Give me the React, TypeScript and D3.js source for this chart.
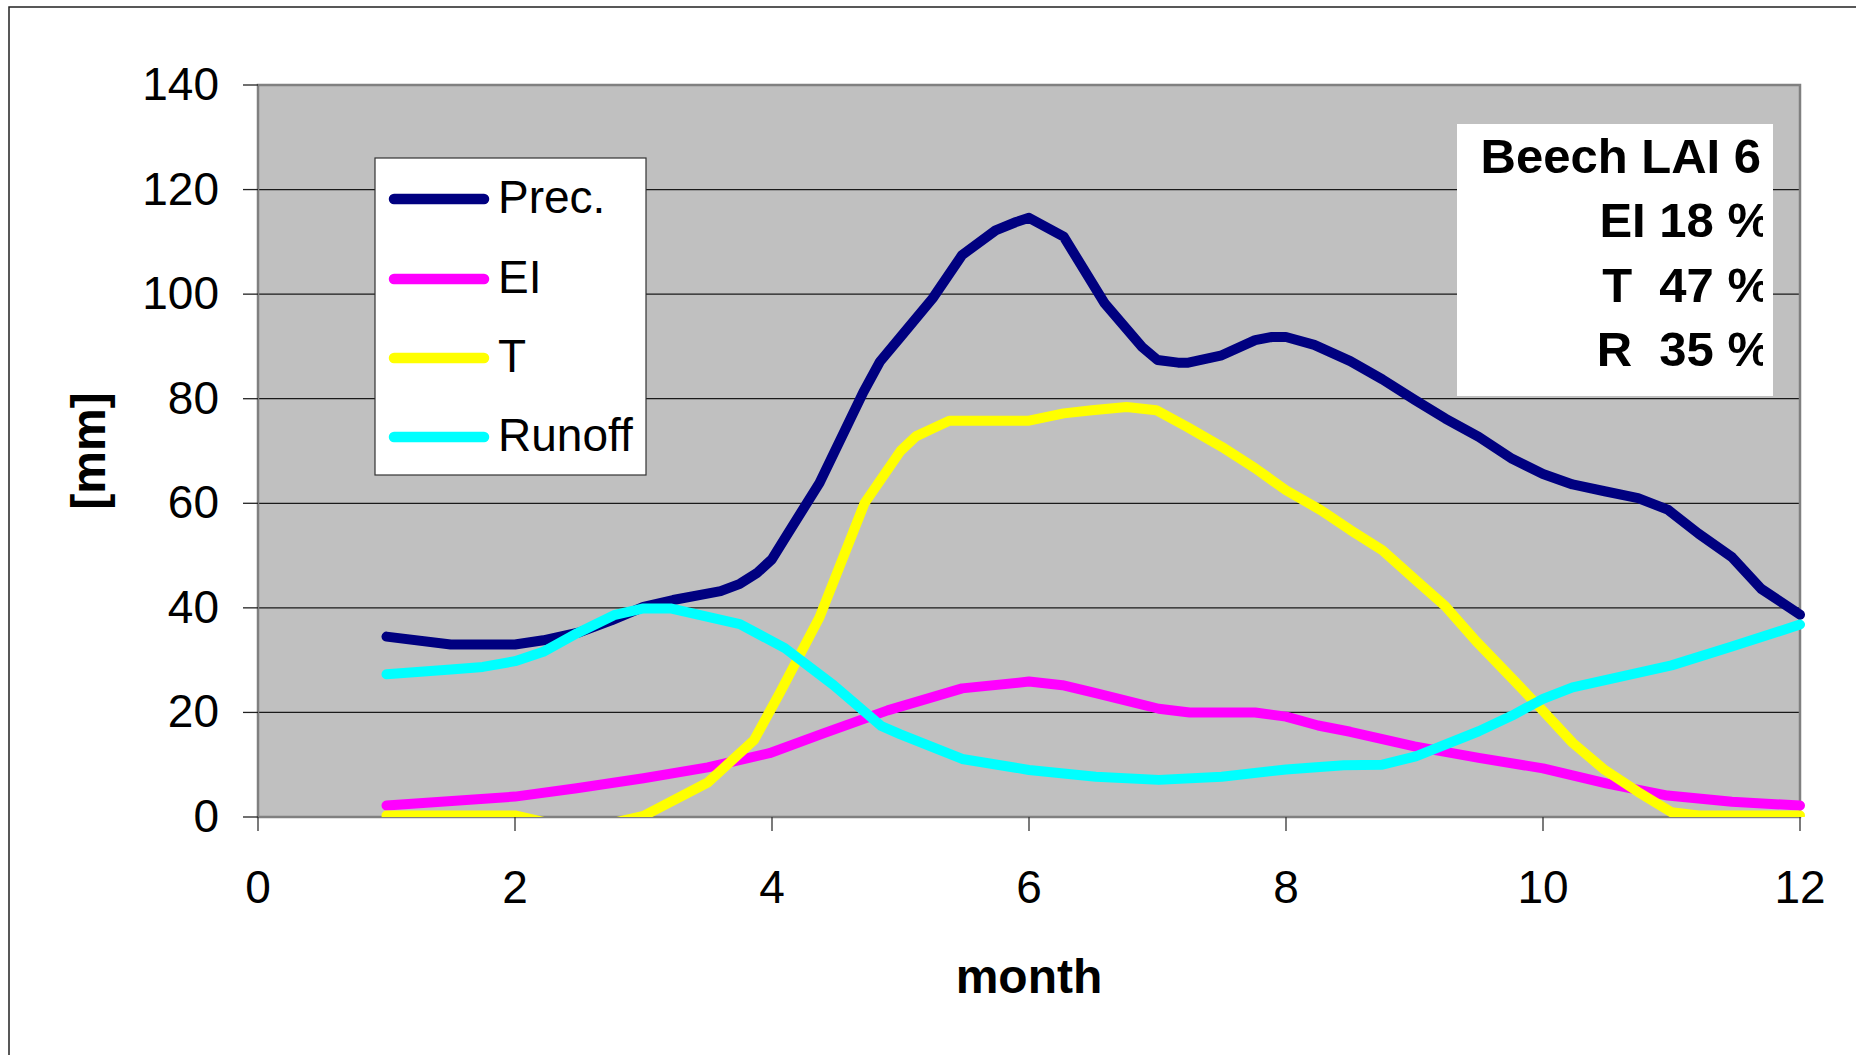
import React from "react";
import * as d3 from "d3";

// Monthly water balance of a beech stand (LAI 6)
const precMonths = [1, 1.5, 2, 2.22, 2.5, 2.75, 3, 3.23, 3.6, 3.75, 3.88, 4, 4.1, 4.37, 4.71, 4.84, 5, 5.25, 5.48, 5.74, 5.9, 6, 6.27, 6.59, 6.88, 7, 7.16, 7.24, 7.5, 7.76, 7.89, 8, 8.22, 8.5, 8.75, 9, 9.24, 9.5, 9.76, 10, 10.23, 10.48, 10.74, 10.97, 11.21, 11.47, 11.7, 12];
const precValues = [34.5, 33, 33, 33.8, 35.3, 37.6, 40.2, 41.5, 43.2, 44.6, 46.6, 49.3, 53.3, 63.9, 81.2, 87.1, 91.8, 99.2, 107.5, 112.2, 113.8, 114.6, 111, 98.2, 89.9, 87.4, 86.9, 86.9, 88.3, 91.2, 91.8, 91.8, 90.3, 87.2, 83.7, 79.8, 76.2, 72.7, 68.5, 65.6, 63.6, 62.3, 61, 58.8, 54.2, 49.7, 43.6, 38.7];

const eiMonths = [1, 2, 2.48, 3, 3.5, 3.98, 4.4, 4.9, 5.48, 6, 6.26, 6.52, 7.01, 7.25, 7.76, 8, 8.25, 8.5, 9, 9.5, 10, 10.5, 10.97, 11.47, 12];
const eiValues = [2.2, 3.9, 5.5, 7.4, 9.5, 12.2, 16.0, 20.4, 24.6, 25.9, 25.2, 23.7, 20.7, 20.0, 20.0, 19.2, 17.5, 16.3, 13.5, 11.3, 9.3, 6.4, 4.1, 2.9, 2.2];

const tMonths = [1, 2, 2.5, 2.75, 3, 3.5, 3.86, 4.06, 4.37, 4.72, 5, 5.12, 5.25, 5.38, 6, 6.27, 6.49, 6.76, 6.99, 7.23, 7.5, 7.76, 8, 8.27, 8.5, 8.75, 9, 9.24, 9.48, 9.76, 10, 10.23, 10.48, 10.74, 11, 11.21, 12];
const tValues = [0.3, 0.3, -2.5, -1.2, 0.2, 6.6, 14.7, 23.7, 38.2, 60, 70, 72.8, 74.3, 75.8, 75.8, 77.2, 77.8, 78.4, 77.8, 74.6, 70.8, 66.7, 62.5, 58.7, 54.9, 51, 45.5, 40.3, 33.6, 26.5, 20.3, 14.2, 9, 4.8, 0.9, 0.3, 0.3];

const runoffMonths = [1, 1.5, 1.75, 2, 2.22, 2.48, 2.77, 3, 3.21, 3.75, 4.1, 4.48, 4.85, 5, 5.48, 6, 6.52, 7.01, 7.5, 8, 8.45, 8.75, 9.01, 9.5, 9.76, 10, 10.23, 11, 11.47, 12];
const runoffValues = [27.3, 28.2, 28.7, 29.8, 31.6, 35.1, 38.6, 39.9, 39.9, 36.9, 32.3, 25.2, 17.4, 15.8, 11.1, 9.0, 7.7, 7.1, 7.7, 9.1, 9.9, 10.0, 11.6, 16.4, 19.4, 22.6, 24.8, 29.0, 32.6, 36.8];

const seriesNames = ["Prec.", "EI", "T", "Runoff"];
const seriesColors = ["#000080", "#FF00FF", "#FFFF00", "#00FFFF"];

const xTicks = [0, 2, 4, 6, 8, 10, 12];
const yTicks = [0, 20, 40, 60, 80, 100, 120, 140];

const infoLines = ["Beech LAI 6", "EI 18 %", "T  47 %", "R  35 %"];

const W = 1856;
const H = 1055;
const FONT = "'Liberation Sans', Arial, Helvetica, sans-serif";

export default function App() {
  const plot = { left: 258, right: 1800, top: 85, bottom: 817 };
  const x = d3.scaleLinear().domain([0, 12]).range([plot.left, plot.right]);
  const y = d3.scaleLinear().domain([0, 140]).range([plot.bottom, plot.top]);

  const line = d3
    .line<[number, number]>()
    .x((d) => x(d[0]))
    .y((d) => y(d[1]));

  const zip = (ms: number[], vs: number[]) =>
    ms.map((m, i) => [m, vs[i]] as [number, number]);

  const series = [
    zip(precMonths, precValues),
    zip(eiMonths, eiValues),
    zip(tMonths, tValues),
    zip(runoffMonths, runoffValues),
  ];

  const legend = { x: 375, y: 158, w: 271, h: 317 };
  const legendRows = [199, 279, 358, 437];

  const box = { x: 1457, y: 124, w: 316, h: 272 };
  const infoBaselines = [173, 237, 302, 366];
  const infoRight = [1761, 1771, 1771, 1771];

  return (
    <svg
      width={W}
      height={H}
      viewBox={`0 0 ${W} ${H}`}
      style={{ position: "absolute", left: 0, top: 0, background: "#fff" }}
    >
      <defs>
        <clipPath id="plotClip">
          <rect x={plot.left - 20} y={plot.top} width={plot.right - plot.left + 40} height={plot.bottom - plot.top} />
        </clipPath>
        <clipPath id="infoClip">
          <rect x={box.x} y={box.y} width={1763 - box.x} height={box.h} />
        </clipPath>
      </defs>

      {/* chart frame */}
      <rect x={9} y={7} width={1900} height={1100} fill="#fff" stroke="#222" strokeWidth={1.5} />

      {/* plot area */}
      <rect
        x={plot.left}
        y={plot.top}
        width={plot.right - plot.left}
        height={plot.bottom - plot.top}
        fill="#C0C0C0"
      />

      {/* gridlines */}
      {yTicks.slice(1, -1).map((t) => (
        <line key={`g${t}`} x1={plot.left} x2={plot.right} y1={y(t)} y2={y(t)} stroke="#1a1a1a" strokeWidth={1.3} />
      ))}

      {/* plot border */}
      <rect
        x={plot.left}
        y={plot.top}
        width={plot.right - plot.left}
        height={plot.bottom - plot.top}
        fill="none"
        stroke="#808080"
        strokeWidth={2.5}
      />

      {/* y axis ticks and labels */}
      {yTicks.map((t) => (
        <g key={`y${t}`}>
          <line x1={plot.left - 15} x2={plot.left} y1={y(t)} y2={y(t)} stroke="#222" strokeWidth={1.3} />
          <text x={219} y={y(t) + 15} textAnchor="end" fontFamily={FONT} fontSize={46} fill="#000">
            {t}
          </text>
        </g>
      ))}

      {/* x axis ticks and labels */}
      {xTicks.map((t) => (
        <g key={`x${t}`}>
          <line x1={x(t)} x2={x(t)} y1={plot.bottom} y2={plot.bottom + 14} stroke="#333" strokeWidth={1.3} />
          <text x={x(t)} y={903} textAnchor="middle" fontFamily={FONT} fontSize={46} fill="#000">
            {t}
          </text>
        </g>
      ))}

      {/* axis titles */}
      <text
        transform="translate(105,451) rotate(-90)"
        textAnchor="middle"
        fontFamily={FONT}
        fontWeight="bold"
        fontSize={48}
        fill="#000"
      >
        [mm]
      </text>
      <text x={1029} y={993} textAnchor="middle" fontFamily={FONT} fontWeight="bold" fontSize={48} fill="#000">
        month
      </text>

      {/* series */}
      <g clipPath="url(#plotClip)">
        {series.map((s, i) => (
          <path
            key={seriesNames[i]}
            d={line(s) || ""}
            fill="none"
            stroke={seriesColors[i]}
            strokeWidth={10}
            strokeLinecap="round"
            strokeLinejoin="round"
          />
        ))}
      </g>

      {/* legend */}
      <rect x={legend.x} y={legend.y} width={legend.w} height={legend.h} fill="#fff" stroke="#333" strokeWidth={1.2} />
      {seriesNames.map((n, i) => (
        <g key={`l${n}`}>
          <line
            x1={394}
            x2={484}
            y1={legendRows[i]}
            y2={legendRows[i]}
            stroke={seriesColors[i]}
            strokeWidth={10.5}
            strokeLinecap="round"
          />
          <text x={498} y={legendRows[i] + 14} fontFamily={FONT} fontSize={46} fill="#000">
            {n}
          </text>
        </g>
      ))}

      {/* summary box */}
      <rect x={box.x} y={box.y} width={box.w} height={box.h} fill="#fff" />
      <g clipPath="url(#infoClip)">
        {infoLines.map((s, i) => (
          <text
            key={`i${i}`}
            x={infoRight[i]}
            y={infoBaselines[i]}
            textAnchor="end"
            fontFamily={FONT}
            fontWeight="bold"
            fontSize={49}
            fill="#000"
            style={{ whiteSpace: "pre" }}
          >
            {s}
          </text>
        ))}
      </g>
    </svg>
  );
}
